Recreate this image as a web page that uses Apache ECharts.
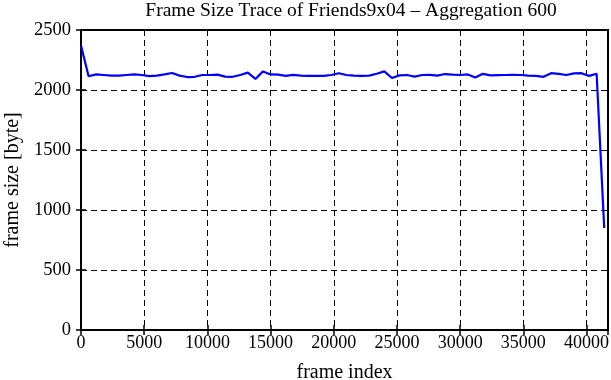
<!DOCTYPE html>
<html>
<head>
<meta charset="utf-8">
<script src="https://cdn.jsdelivr.net/npm/echarts@6/dist/echarts.min.js"></script>
<style>
html, body { margin: 0; padding: 0; background: #fff; }
#chart { width: 611px; height: 380px; }
</style>
</head>
<body>
<div id="chart"></div>
<script>
// frame index of each aggregated point (every 600 frames)
var frames = [];
for (var i = 0; i < 70; i++) frames.push(i * 600);

// frame size [byte]
var sizes = [
    2370, 2115, 2130, 2125, 2120, 2120, 2125, 2130, 2125, 2115,
    2120, 2130, 2142, 2120, 2108, 2110, 2125, 2125, 2128, 2112,
    2110, 2125, 2145, 2092, 2155, 2130, 2128, 2118, 2126, 2120,
    2117, 2117, 2118, 2125, 2140, 2125, 2120, 2118, 2120, 2135,
    2155, 2100, 2122, 2125, 2112, 2125, 2126, 2120, 2133, 2128,
    2125, 2130, 2105, 2135, 2122, 2124, 2125, 2126, 2125, 2120,
    2118, 2110, 2140, 2135, 2125, 2138, 2140, 2118, 2135, 850
];

var titleText = 'Frame Size Trace of Friends9x04 \u2013 Aggregation 600';
var xName = 'frame index';
var yName = 'frame size [byte]';

var pts = [];
for (var k = 0; k < frames.length; k++) pts.push([frames[k], sizes[k]]);

var font = 'Liberation Serif';
var dash = { color: '#000', width: 1, type: [6, 4] };
var tick = { inside: true, length: 5, lineStyle: { color: '#000', width: 1.5 } };

var chart = echarts.init(document.getElementById('chart'));
chart.setOption({
    animation: false,
    backgroundColor: '#fff',
    textStyle: { fontFamily: font },
    title: {
        text: titleText,
        left: 346, top: -4, textAlign: 'center',
        textStyle: { fontFamily: font, fontWeight: 'normal', fontSize: 19.5, color: '#000' }
    },
    grid: {
        left: 81, right: 3, top: 30, bottom: 50,
        outerBoundsMode: 'none', containLabel: false,
        show: true, borderColor: '#000', borderWidth: 2
    },
    xAxis: [{
        type: 'value', min: 0, max: 41700, interval: 5000,
        name: xName, nameLocation: 'middle', nameGap: 33,
        nameTextStyle: { fontFamily: font, fontSize: 20, color: '#000' },
        axisLine: { show: true, onZero: false, lineStyle: { color: '#000', width: 2 } },
        axisTick: tick,
        axisLabel: {
            fontFamily: font, fontSize: 18, color: '#000', margin: 4, showMaxLabel: false,
            formatter: function (v) { return v % 5000 === 0 ? String(v) : ''; }
        },
        splitLine: { show: true, lineStyle: dash }
    }, {
        type: 'value', position: 'top', min: 0, max: 41700, interval: 5000,
        axisLine: { show: false },
        axisTick: tick,
        axisLabel: { show: false },
        splitLine: { show: false }
    }],
    yAxis: [{
        type: 'value', min: 0, max: 2500, interval: 500,
        name: yName, nameLocation: 'middle', nameGap: 58,
        nameTextStyle: { fontFamily: font, fontSize: 20, color: '#000' },
        axisLine: { show: true, lineStyle: { color: '#000', width: 2 } },
        axisTick: tick,
        axisLabel: {
            fontFamily: font, fontSize: 18.5, color: '#000', margin: 10,
            formatter: function (v) { return String(v); }
        },
        splitLine: { show: true, lineStyle: dash }
    }, {
        type: 'value', position: 'right', min: 0, max: 2500, interval: 500,
        axisLine: { show: false },
        axisTick: tick,
        axisLabel: { show: false },
        splitLine: { show: false }
    }],
    series: [{
        type: 'line',
        data: pts,
        showSymbol: false,
        symbol: 'none',
        lineStyle: { color: '#0000ff', width: 2.2 },
        z: 5
    }]
});
</script>
</body>
</html>
